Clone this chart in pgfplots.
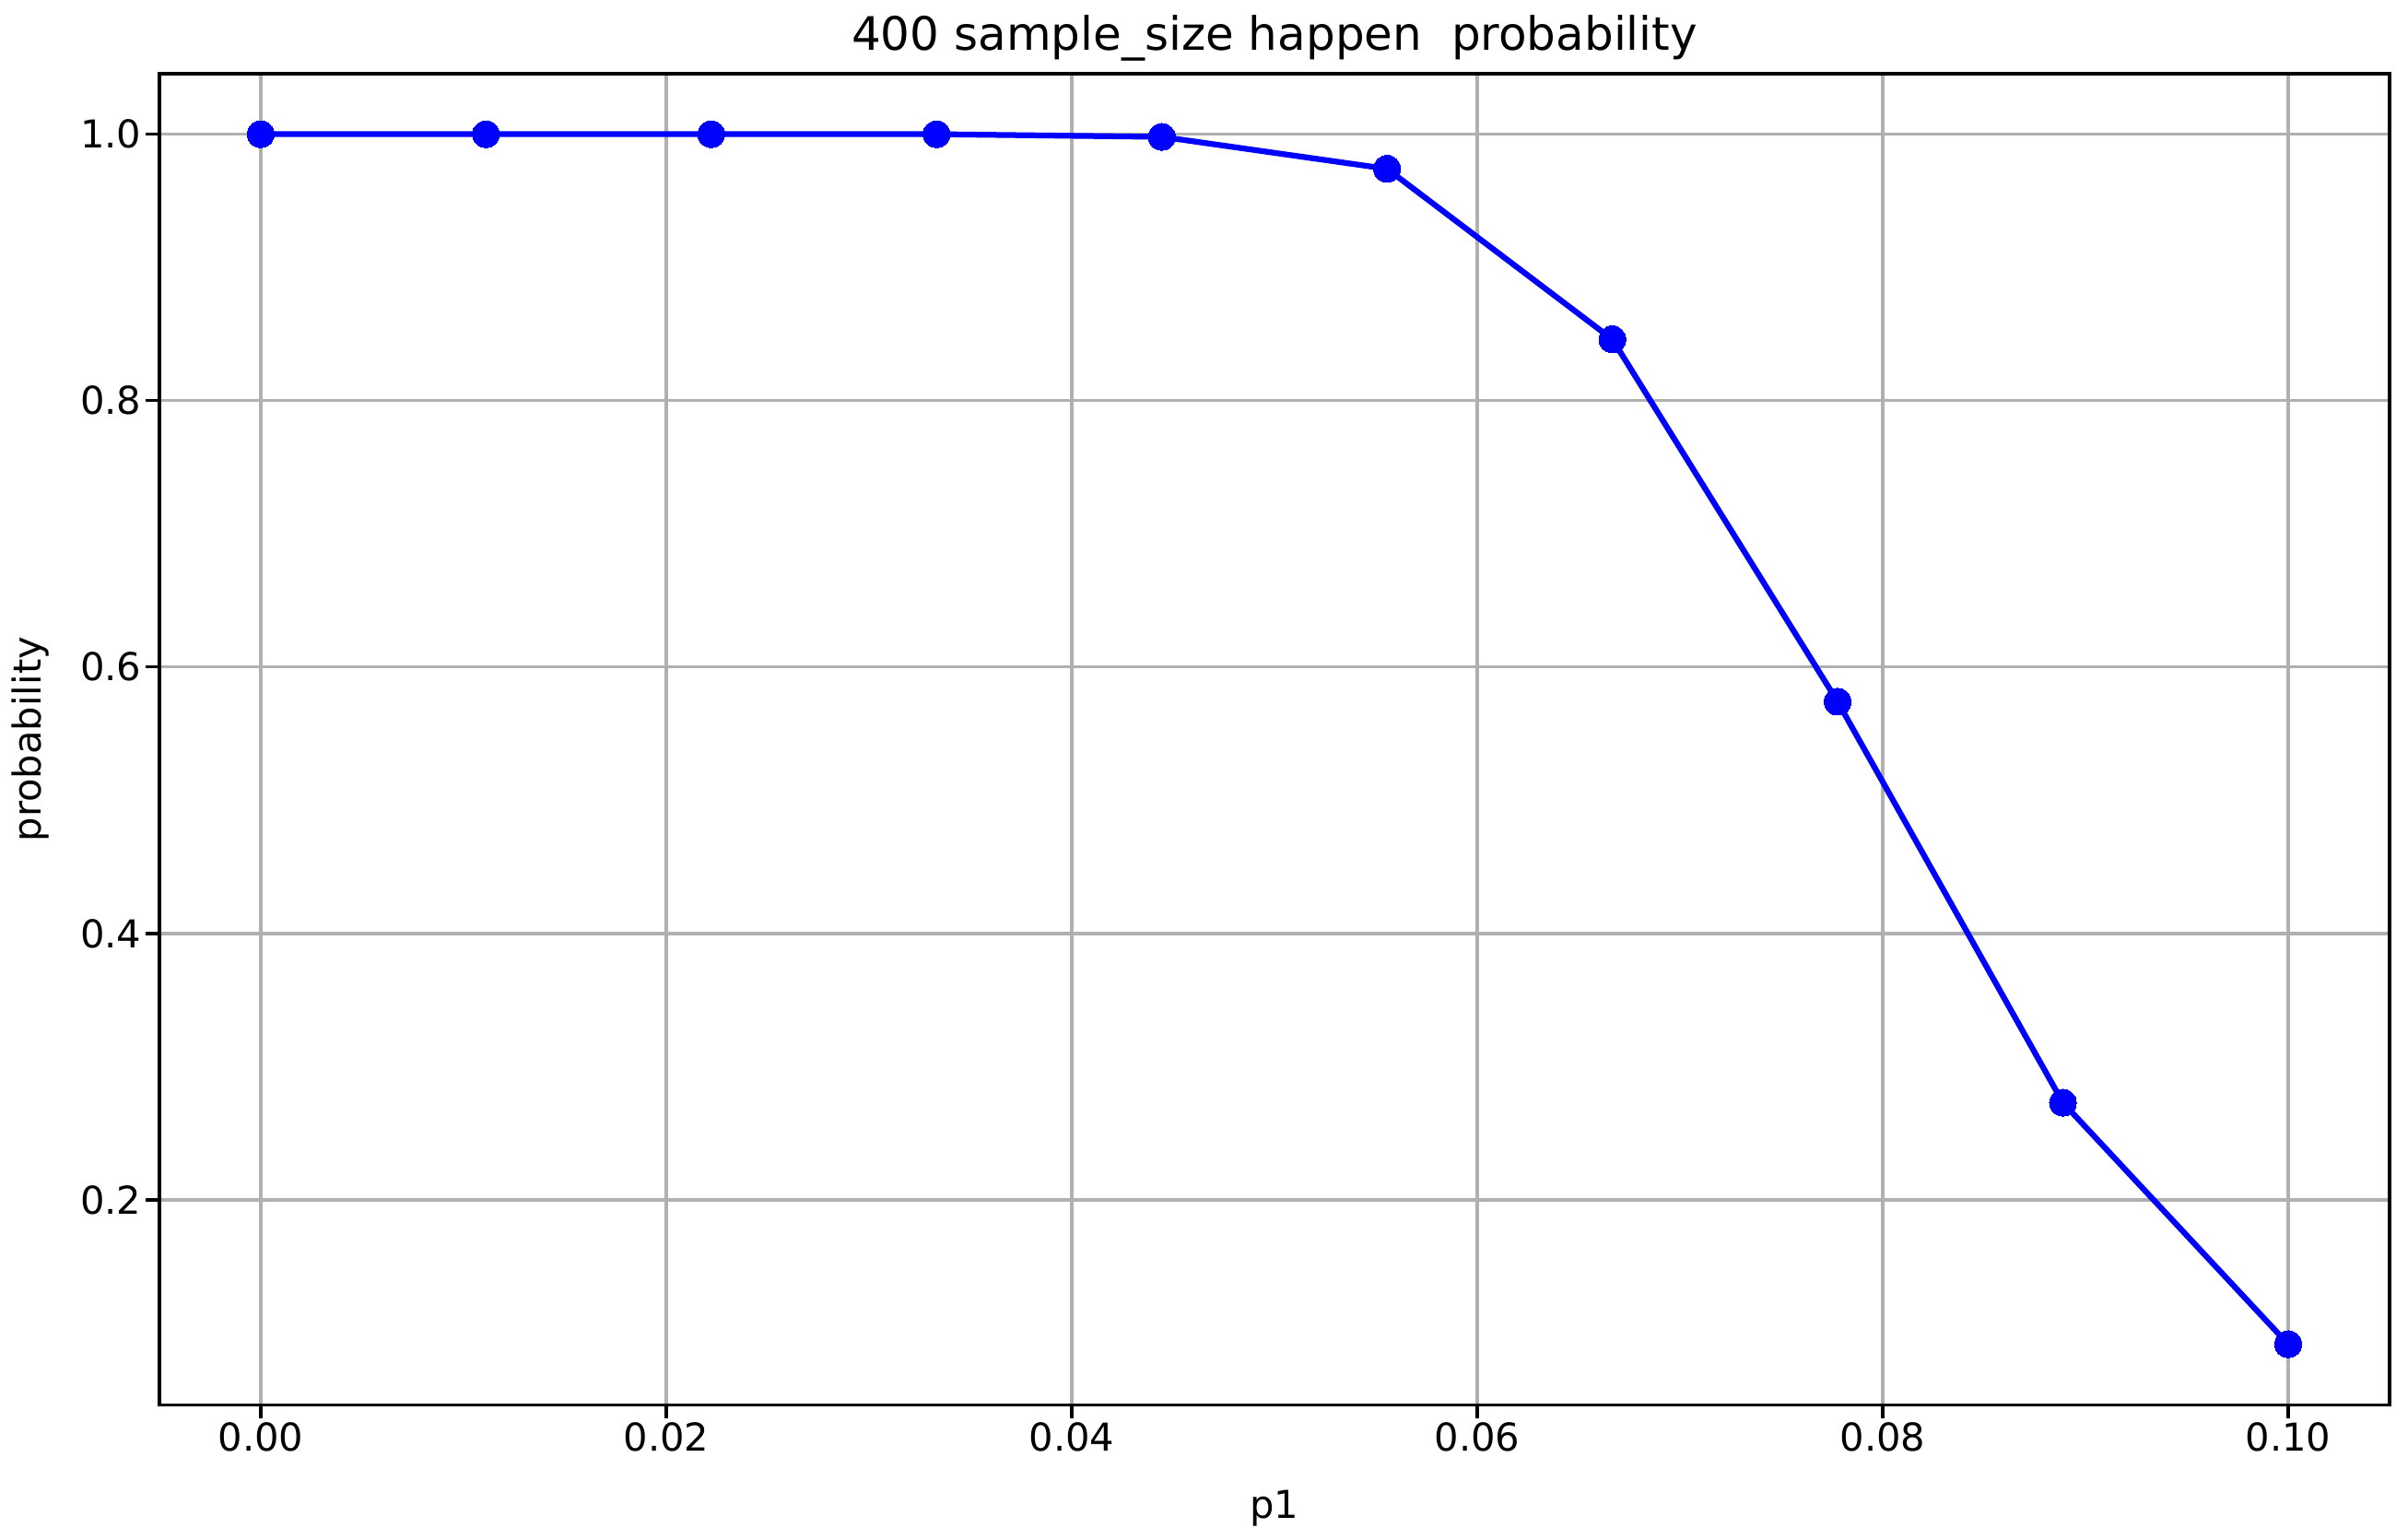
\documentclass[border=0pt]{standalone}
\usepackage{fontspec}
\setmainfont{DejaVu Sans}
\usepackage{pgfplots}
\pgfplotsset{compat=1.18}
\definecolor{mplgrid}{HTML}{B0B0B0}
\begin{document}
\begin{tikzpicture}
\useasboundingbox (-41.5pt,-35.0pt) rectangle (585.6pt,365.8pt);
\begin{axis}[
  at={(0,0)}, anchor=south west,
  scale only axis, width=580.8pt, height=346.6pt,
  xmin=-0.005, xmax=0.105, ymin=0.0463, ymax=1.0454,
  xtick={0,0.02,0.04,0.06,0.08,0.1},
  ytick={0.2,0.4,0.6,0.8,1.0},
  /pgf/number format/assume math mode=true,
  xticklabel={\pgfmathprintnumber[fixed,fixed zerofill,precision=2]{\tick}},
  yticklabel={\pgfmathprintnumber[fixed,fixed zerofill,precision=1]{\tick}},
  scaled x ticks=false, scaled y ticks=false,
  tick align=outside, major tick length=3.5pt,
  tick style={black, line width=0.8pt},
  axis line style={line width=0.8pt},
  xtick pos=bottom, ytick pos=left,
  grid=major,
  major grid style={color=mplgrid, line width=0.8pt},
  ticklabel style={font=\fontsize{10}{12}\selectfont},
  xticklabel style={inner sep=0pt, anchor=north, yshift=-0.9pt},
  yticklabel style={inner sep=0pt, anchor=east, xshift=-1.0pt},
  clip=false,
]
\addplot[blue, line width=1.5pt, mark=*, mark size=3.5pt,
  mark options={fill=blue, draw=blue, line width=0pt}] coordinates {
  (0.000000,1.0)
  (0.011111,1.0)
  (0.022222,1.0)
  (0.033333,1.0)
  (0.044444,0.998)
  (0.055556,0.974)
  (0.066667,0.846)
  (0.077778,0.574)
  (0.088889,0.273)
  (0.100000,0.0917)
};
\node[anchor=base, inner sep=0pt, font=\fontsize{12}{14}\selectfont] at (axis description cs:0.5,1) [yshift=6pt] {400 sample\_size happen\ \ probability};
\node[anchor=base, inner sep=0pt, font=\fontsize{10}{12}\selectfont] at (axis description cs:0.5,0) [yshift=-29.5pt] {p1};
\node[xshift=-30.7pt, anchor=base, inner sep=0pt, rotate=90, font=\fontsize{10}{12}\selectfont] at (axis description cs:0,0.5) {probability};
\end{axis}
\end{tikzpicture}
\end{document}
